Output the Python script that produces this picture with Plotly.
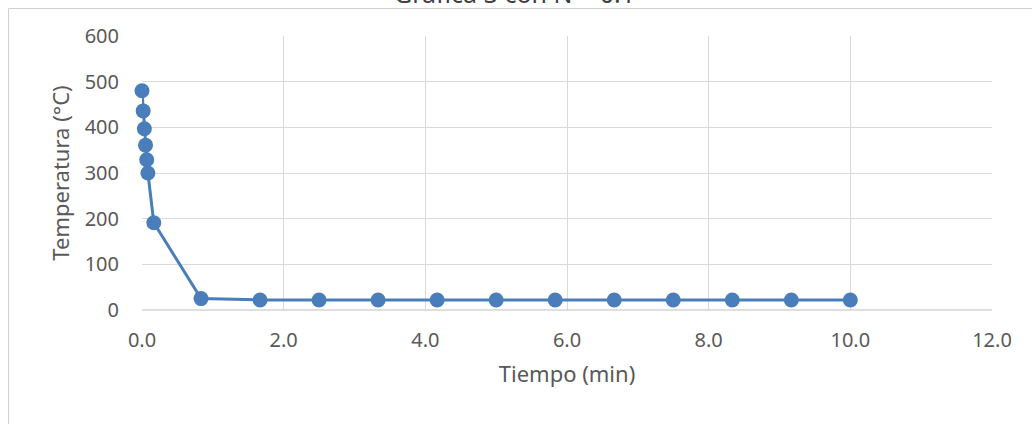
import plotly.graph_objects as go

# Tiempo en minutos y temperatura en °C
tiempo_min = [0.0, 0.0167, 0.0333, 0.05, 0.0667, 0.0833, 0.1667, 0.8333,
              1.6667, 2.5, 3.3333, 4.1667, 5.0, 5.8333, 6.6667, 7.5, 8.3333,
              9.1667, 10.0]
temperatura_c = [480, 436, 397, 361, 329, 300, 191, 25,
                 22, 22, 22, 22, 22, 22, 22, 22, 22,
                 22, 22]

x_ticks = [0, 2, 4, 6, 8, 10, 12]
x_tick_text = ["0.0", "2.0", "4.0", "6.0", "8.0", "10.0", "12.0"]
y_ticks = [0, 100, 200, 300, 400, 500, 600]

azul = "#4a7ebb"
gris_texto = "#595959"
gris_rejilla = "#d9d9d9"
fuente = "Noto Sans"

fig = go.Figure()
fig.add_trace(go.Scatter(
    x=tiempo_min, y=temperatura_c, mode="lines+markers",
    line=dict(color=azul, width=3),
    marker=dict(color=azul, size=15),
    cliponaxis=False,
    showlegend=False,
))

W, H = 1032, 424
L, R, T, B = 142, 40, 36, 114
pw, ph = W - L - R, H - T - B

def px_x(p):
    return (p - L) / pw

def px_y(p):
    return 1 - (p - T) / ph

fig.update_layout(
    width=W, height=H,
    margin=dict(l=L, r=R, t=T, b=B),
    paper_bgcolor="white", plot_bgcolor="white",
    font=dict(family=fuente, color=gris_texto, size=20),
    xaxis=dict(range=[0, 12], tickvals=x_ticks, ticktext=x_tick_text,
               showgrid=True, gridcolor=gris_rejilla, gridwidth=1,
               zeroline=False, showline=False, ticks="",
               ticklabelstandoff=16,
               tickfont=dict(size=20, color=gris_texto),
               title=dict(text="Tiempo (min)", font=dict(size=22, color=gris_texto),
                          standoff=14)),
    yaxis=dict(range=[0, 600], tickvals=y_ticks,
               showgrid=True, gridcolor=gris_rejilla, gridwidth=1,
               zeroline=False, showline=False, ticks="",
               ticklabelstandoff=22,
               tickfont=dict(size=20, color=gris_texto),
               title=dict(text="Temperatura (°C)", font=dict(size=22, color=gris_texto),
                          standoff=8)),
    annotations=[
        # título del gráfico
        dict(text="Gráfica 3 con N = 0.1", xref="paper", yref="paper",
             x=px_x(514), y=px_y(-7), xanchor="center", yanchor="middle",
             showarrow=False, font=dict(size=25, color="#404040", family=fuente)),
    ],
    shapes=[
        # marco del gráfico
        dict(type="line", xref="paper", yref="paper",
             x0=px_x(8.5), x1=px_x(8.5), y0=px_y(8.5), y1=px_y(430),
             line=dict(color="#d0d0d0", width=1)),
        dict(type="line", xref="paper", yref="paper",
             x0=px_x(8.5), x1=px_x(1040), y0=px_y(8.5), y1=px_y(8.5),
             line=dict(color="#d0d0d0", width=1)),
        # eje horizontal
        dict(type="line", xref="paper", yref="paper",
             x0=0, x1=1, y0=0, y1=0, line=dict(color="#bfbfbf", width=1)),
    ],
)

fig.write_html("out.html")
